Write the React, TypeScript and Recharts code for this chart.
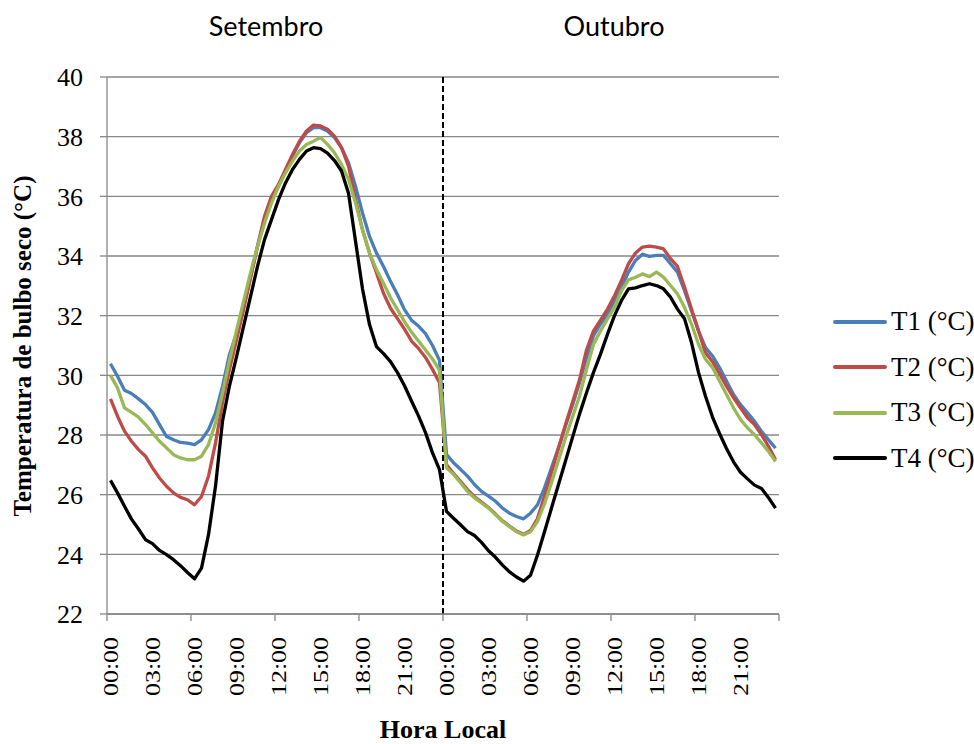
import { LineChart, Line, XAxis, YAxis, CartesianGrid, ReferenceLine } from "recharts";

// half-hour readings, 00:00 Setembro -> 23:30 Outubro (96 points)
const t1 = [
  30.39, 29.97, 29.5, 29.39, 29.21, 29.02, 28.76, 28.35, 27.95, 27.84, 27.75, 27.73,
  27.68, 27.84, 28.18, 28.74, 29.63, 30.7, 31.41, 32.3, 33.31, 34.32, 35.22, 35.89,
  36.34, 36.85, 37.35, 37.8, 38.13, 38.3, 38.3, 38.19, 37.97, 37.63, 37.13, 36.34,
  35.44, 34.66, 34.1, 33.65, 33.15, 32.7, 32.2, 31.85, 31.65, 31.4, 31.0, 30.5,
  27.35, 27.07, 26.85, 26.62, 26.34, 26.11, 25.95, 25.78, 25.55, 25.38, 25.27, 25.19,
  25.38, 25.66, 26.23, 26.9, 27.58, 28.3, 29.0, 29.75, 30.6, 31.33, 31.72, 32.06,
  32.5, 32.96, 33.46, 33.85, 34.06, 33.99, 34.02, 34.02, 33.74, 33.46, 32.84, 32.17,
  31.49, 30.93, 30.65, 30.26, 29.81, 29.36, 29.02, 28.74, 28.46, 28.12, 27.84, 27.56,
];

const t2 = [
  29.21, 28.63, 28.13, 27.79, 27.51, 27.29, 26.9, 26.56, 26.28, 26.06, 25.91, 25.83,
  25.66, 25.94, 26.62, 27.73, 29.08, 30.2, 31.18, 32.19, 33.26, 34.32, 35.33, 36.0,
  36.4, 36.9, 37.4, 37.85, 38.19, 38.39, 38.36, 38.25, 38.02, 37.63, 37.01, 35.9,
  34.88, 34.1, 33.43, 32.75, 32.25, 31.9, 31.55, 31.15, 30.9, 30.6, 30.2, 29.75,
  27.0, 26.72, 26.45, 26.17, 25.93, 25.75, 25.57, 25.35, 25.12, 24.95, 24.78, 24.67,
  24.8, 25.2, 25.95, 26.75, 27.55, 28.35, 29.1, 29.85, 30.85, 31.49, 31.85, 32.22,
  32.67, 33.18, 33.74, 34.1, 34.3, 34.33, 34.3, 34.24, 33.91, 33.65, 32.96, 32.22,
  31.49, 30.76, 30.46, 30.06, 29.64, 29.25, 28.91, 28.58, 28.35, 28.01, 27.62, 27.17,
];

const t3 = [
  30.0, 29.58, 28.91, 28.76, 28.6, 28.35, 28.07, 27.79, 27.57, 27.34, 27.23, 27.17,
  27.17, 27.29, 27.68, 28.4, 29.4, 30.5, 31.5, 32.47, 33.43, 34.32, 35.1, 35.78,
  36.34, 36.79, 37.18, 37.52, 37.74, 37.85, 37.97, 37.74, 37.46, 37.07, 36.57, 35.78,
  34.88, 34.1, 33.54, 33.09, 32.6, 32.2, 31.8, 31.45, 31.15, 30.85, 30.55, 30.17,
  26.9, 26.68, 26.4, 26.11, 25.89, 25.72, 25.55, 25.33, 25.1, 24.93, 24.76, 24.65,
  24.76, 25.1, 25.7, 26.4, 27.15, 27.9, 28.6, 29.3, 30.2, 31.04, 31.49, 31.89,
  32.28, 32.84, 33.2, 33.29, 33.4, 33.31, 33.46, 33.29, 33.01, 32.73, 32.28, 31.72,
  31.04, 30.54, 30.26, 29.81, 29.36, 28.91, 28.52, 28.24, 28.01, 27.73, 27.45, 27.11,
];

const t4 = [
  26.48, 26.06, 25.61, 25.18, 24.85, 24.49, 24.36, 24.13, 23.99, 23.82, 23.62, 23.39,
  23.18, 23.54, 24.66, 26.28, 28.46, 29.65, 30.62, 31.63, 32.64, 33.65, 34.55, 35.22,
  35.89, 36.45, 36.9, 37.24, 37.52, 37.63, 37.6, 37.45, 37.2, 36.85, 36.1, 34.5,
  32.9, 31.7, 30.96, 30.73, 30.46, 30.09, 29.65, 29.14, 28.64, 28.08, 27.4, 26.84,
  25.44, 25.21, 24.99, 24.76, 24.63, 24.4, 24.12, 23.9, 23.64, 23.41, 23.24, 23.1,
  23.3, 23.98, 24.76, 25.55, 26.34, 27.13, 27.92, 28.7, 29.42, 30.1, 30.71, 31.38,
  32.0, 32.51, 32.9, 32.93, 33.01, 33.07, 33.01, 32.9, 32.62, 32.22, 31.9, 31.1,
  30.1, 29.3, 28.6, 28.05, 27.55, 27.1, 26.75, 26.53, 26.32, 26.21, 25.9, 25.55,
];

const hourLabels = ["00:00", "03:00", "06:00", "09:00", "12:00", "15:00", "18:00", "21:00"];
const months = ["Setembro", "Outubro"];
const yTicks = [22, 24, 26, 28, 30, 32, 34, 36, 38, 40];

const series = [
  { key: "t1", name: "T1 (°C)", color: "#4A7EBB" },
  { key: "t2", name: "T2 (°C)", color: "#BE4B48" },
  { key: "t3", name: "T3 (°C)", color: "#98B954" },
  { key: "t4", name: "T4 (°C)", color: "#000000" },
];

const data = t1.map((v, i) => ({ i, t1: v, t2: t2[i], t3: t3[i], t4: t4[i] }));

// labels every 6 points, tick marks every 12 points (between categories)
const labelTicks = Array.from({ length: 16 }, (_, k) => k * 6);
const markTicks = Array.from({ length: 9 }, (_, k) => k * 12 - 0.5);
const xTicks = [...markTicks, ...labelTicks].sort((a, b) => a - b);

const GRID = "#878787";
const SERIF = "'Liberation Serif', 'Times New Roman', serif";

const XTick = (props: any) => {
  const { x, y, payload } = props;
  const v = payload.value;
  if (v % 1 !== 0) {
    return <line x1={x} x2={x} y1={y} y2={y + 7} stroke={GRID} strokeWidth={1.3} />;
  }
  const label = hourLabels[(v / 6) % 8];
  const ty = y + 23;
  return (
    <text
      x={x}
      y={ty}
      transform={`rotate(-90, ${x}, ${ty})`}
      textAnchor="end"
      dominantBaseline="central"
      fontFamily={SERIF}
      fontSize={20}
      textLength={59}
      lengthAdjust="spacingAndGlyphs"
      fill="#000"
    >
      {label}
    </text>
  );
};

export default function App() {
  return (
    <div
      style={{
        position: "absolute",
        left: 0,
        top: 0,
        width: 974,
        height: 744,
        overflow: "hidden",
        background: "#fff",
      }}
    >
      <LineChart
        width={974}
        height={744}
        data={data}
        margin={{ top: 77, right: 195, bottom: 0, left: 0 }}
      >
        <CartesianGrid vertical={false} stroke={GRID} strokeWidth={1.3} />
        <XAxis
          dataKey="i"
          type="number"
          domain={[-0.5, 95.5]}
          ticks={xTicks}
          interval={0}
          tickSize={0}
          tickMargin={0}
          tickLine={false}
          tick={<XTick />}
          height={130}
          axisLine={{ stroke: GRID, strokeWidth: 1.3 }}
        />
        <YAxis
          domain={[22, 40]}
          ticks={yTicks}
          width={107}
          tickSize={7}
          tickMargin={17}
          tickLine={{ stroke: GRID, strokeWidth: 1.3 }}
          axisLine={{ stroke: GRID, strokeWidth: 1.3 }}
          tick={{ fontFamily: SERIF, fontSize: 26, fill: "#000" }}
        />
        <ReferenceLine x={47.5} stroke="#000" strokeWidth={2} strokeDasharray="6 3" />
        {series.map((s) => (
          <Line
            key={s.key}
            type="linear"
            dataKey={s.key}
            name={s.name}
            stroke={s.color}
            strokeWidth={3.3}
            strokeLinejoin="round"
            dot={false}
            activeDot={false}
            isAnimationActive={false}
          />
        ))}
      </LineChart>

      {/* legend */}
      <div style={{ position: "absolute", left: 833, top: 299, fontFamily: SERIF }}>
        {series.map((s) => (
          <div key={s.key} style={{ display: "flex", alignItems: "center", height: 45.5 }}>
            <span
              style={{
                display: "inline-block",
                width: 54,
                height: 4,
                borderRadius: 2,
                background: s.color,
                marginRight: 4,
              }}
            />
            <span style={{ fontSize: 27, lineHeight: 1, color: "#000", whiteSpace: "nowrap" }}>{s.name}</span>
          </div>
        ))}
      </div>

      {months.map((m, k) => (
        <div
          key={m}
          style={{
            position: "absolute",
            left: k === 0 ? 266 : 614,
            top: 25,
            transform: "translate(-50%, -50%)",
            fontFamily: "Lato, 'Open Sans', sans-serif",
            fontSize: 27,
            lineHeight: 1,
            whiteSpace: "nowrap",
            color: "#000",
          }}
        >
          {m}
        </div>
      ))}
      <div
        style={{
          position: "absolute",
          left: 22,
          top: 346,
          transform: "translate(-50%, -50%) rotate(-90deg)",
          fontFamily: SERIF,
          fontWeight: "bold",
          fontSize: 25,
          lineHeight: 1,
          whiteSpace: "nowrap",
          color: "#000",
        }}
      >
        Temperatura de bulbo seco (°C)
      </div>
      <div
        style={{
          position: "absolute",
          left: 443,
          top: 717,
          transform: "translateX(-50%)",
          fontFamily: SERIF,
          fontWeight: "bold",
          fontSize: 26,
          lineHeight: 1,
          whiteSpace: "nowrap",
          color: "#000",
        }}
      >
        Hora Local
      </div>
    </div>
  );
}
